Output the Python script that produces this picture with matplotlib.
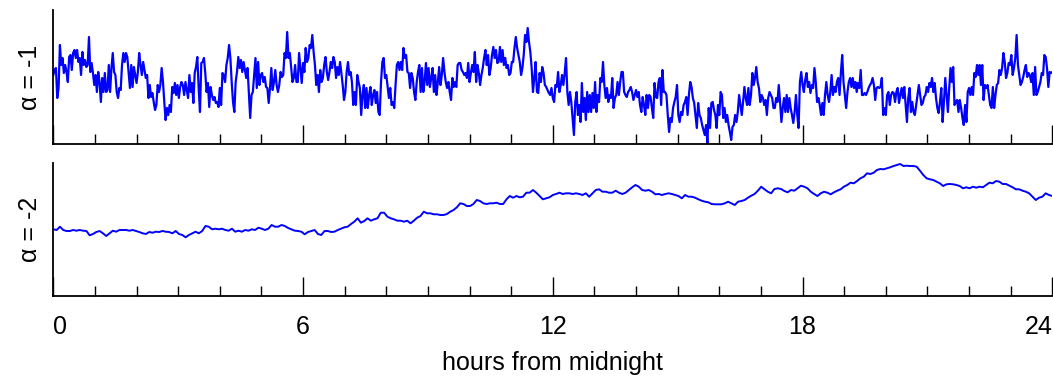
import numpy as np
import matplotlib
matplotlib.use("Agg")
import matplotlib.pyplot as plt

# series, in pixel-height units above each panel's baseline
alpha_m1 = [
    69, 74, 76, 46, 56, 99, 79, 86, 71, 79, 72, 62, 87, 89, 74, 91, 94, 86, 94, 82, 86, 69, 92, 79, 84, 77, 79, 107,
    72, 81, 71, 59, 69, 52, 72, 62, 42, 66, 52, 71, 52, 54, 79, 52, 76, 91, 72, 69, 52, 46, 56, 54, 79, 91, 82, 91,
    87, 71, 56, 79, 57, 77, 69, 61, 72, 91, 79, 69, 82, 74, 66, 69, 46, 59, 47, 51, 42, 34, 39, 59, 52, 59, 76, 62,
    42, 24, 36, 29, 39, 32, 57, 51, 61, 49, 59, 46, 57, 62, 59, 49, 62, 54, 46, 69, 52, 61, 41, 71, 77, 87, 56, 32,
    81, 82, 86, 71, 52, 61, 37, 57, 49, 44, 47, 41, 42, 37, 56,
    39, 71, 69, 62, 79, 86, 99, 86, 62, 42, 32, 62, 72, 87, 76, 84, 72, 82, 74, 66, 76, 52, 26, 49, 52, 69, 86, 56,
    82, 59, 69, 71, 62, 67, 57, 56, 41, 56, 76, 54, 62, 74, 59, 52, 59, 72, 67, 69, 91, 86, 112, 86, 91, 76, 62, 66,
    79, 62, 62, 91, 76, 61, 81, 72, 96, 82, 86, 99, 96, 109, 92, 79, 59, 69, 52, 74, 62, 66, 79, 87, 72, 64, 72, 82,
    76, 87, 82, 66, 77, 69, 82, 71, 59, 44, 52, 72, 82, 69, 72, 62, 39, 52, 39, 69, 62, 56, 29, 49, 59, 36, 56, 36,
    49, 57, 39, 49, 54, 41, 52, 32, 29, 62, 82, 86, 66,
    69, 57, 46, 56, 39, 42, 36, 59, 79, 82, 74, 82, 74, 96, 86, 89, 72, 71, 56, 71, 66, 52, 44, 62, 72, 79, 52, 76,
    52, 62, 81, 59, 76, 57, 66, 76, 52, 69, 49, 62, 77, 59, 69, 86, 72, 62, 56, 62, 52, 44, 66, 57, 62, 57, 79, 81,
    81, 74, 72, 69, 71, 66, 81, 62, 71, 79, 72, 92, 62, 79, 71, 59, 69, 76, 86, 94, 79, 89, 69, 76, 89, 97, 86, 94,
    81, 82, 97, 82, 94, 79, 86, 76, 79, 69, 71, 82, 82, 96, 107, 96, 89, 82, 69, 76, 89, 109, 102, 116, 102, 92, 76,
    52, 66, 82, 52, 51, 71, 62, 77, 71, 59, 57, 54, 51,
    49, 56, 46, 42, 59, 57, 72, 52, 59, 69, 59, 71, 86, 52, 39, 52, 42, 26, 9, 42, 52, 29, 39, 22, 61, 32, 46, 24,
    52, 32, 49, 32, 51, 36, 62, 32, 49, 42, 66, 62, 82, 59, 46, 56, 42, 49, 46, 66, 36, 46, 49, 62, 49, 62, 72, 72,
    52, 49, 47, 52, 54, 57, 52, 44, 49, 54, 47, 52, 39, 32, 47, 39, 29, 49, 36, 49, 47, 36, 26, 61, 47, 46, 62, 66,
    39, 74, 52, 52, 49, 29, 12, 26, 22, 36, 42, 47, 59, 29, 22, 32, 29, 39, 42, 47, 29, 49, 62, 57, 46, 41, 29, 16,
    41, 29, 26, 19, 14, 9, 19, 1, 36, 16, 41, 42, 34,
    29, 16, 39, 29, 52, 49, 26, 36, 22, 29, 19, 12, 4, 17, 19, 29, 22, 32, 49, 39, 29, 42, 57, 46, 39, 56, 39, 49,
    71, 59, 66, 77, 62, 56, 42, 49, 46, 39, 44, 29, 46, 52, 49, 46, 36, 36, 46, 42, 59, 42, 22, 36, 46, 32, 49, 32,
    46, 36, 29, 21, 32, 49, 29, 16, 62, 72, 59, 52, 64, 71, 57, 62, 51, 59, 56, 76, 62, 42, 46, 39, 29, 41, 29, 49,
    62, 49, 42, 52, 69, 49, 57, 52, 62, 66, 49, 71, 89, 62, 49, 36, 52, 62, 66, 57, 66, 56, 62, 52, 61, 56, 74, 49,
    49, 51, 49, 52, 56, 59, 61, 66, 59, 44, 56, 57,
    56, 57, 66, 29, 36, 29, 49, 52, 39, 49, 52, 51, 42, 52, 56, 41, 49, 56, 46, 57, 39, 22, 46, 56, 32, 42, 32, 29,
    39, 49, 59, 49, 39, 41, 47, 49, 57, 52, 61, 57, 66, 52, 61, 46, 36, 31, 42, 56, 22, 42, 66, 49, 32, 56, 76, 62,
    77, 39, 42, 44, 32, 44, 36, 26, 19, 39, 22, 52, 56, 49, 57, 49, 71, 67, 79, 69, 79, 59, 79, 44, 59, 56, 59, 49,
    39, 36, 57, 36, 49, 59, 61, 74, 69, 76, 91, 82, 66, 71, 81, 79, 89, 69, 76, 86, 109, 79, 69, 59, 62, 67, 74, 79,
    67, 71, 69, 62, 71, 49, 77, 49, 52, 57, 62, 71, 69, 89, 87, 76, 57, 72, 71, 72,
]

alpha_m2 = [
    66.7, 66, 69.3, 66, 65, 65, 66, 65.3, 66, 65.3, 65, 60.7, 62, 64, 65, 62.7, 60, 62.7, 65.3, 64.3, 66, 66, 66,
    65.3, 66, 65, 64, 62.7, 62, 64, 63.3, 64.3, 64, 65, 64.3, 64, 62.7, 65, 62, 61, 58.7, 61, 62.7, 64.3, 62.7, 65,
    70, 69.3, 66.7, 67.3, 66.7, 67.3, 66, 65.3, 67.3, 64.3, 65.3, 64.3, 66, 65.3, 66.7, 66, 68.3, 67.3, 66, 67.3,
    71, 69.3, 69.3, 71, 70, 68, 66.7, 65.3, 65, 64.3, 61.7, 64, 65, 66, 62, 61, 65, 65, 64, 64.3, 66, 67.3,
    68.7, 69.3, 72, 74.3, 77.7, 73.3, 75, 77.7, 75.3, 76.7, 77.7, 83.3, 83.3, 79.3, 77.7, 76.7, 75.3, 75.3, 74.3,
    75.3, 72.7, 75.3, 78.3, 80, 84.3, 82.7, 82.7, 81.7, 81.7, 81, 81, 82, 84.3, 86, 88.7, 92.7, 92, 90, 90, 92, 96,
    95, 92.7, 92, 92.7, 92.7, 93.3, 92, 92, 96.7, 100, 98.3, 100, 98.7, 99.3, 103.3, 103.3, 106, 103.3, 100, 96.7,
    97.7, 98.7, 101, 102, 103.3, 102, 102.7, 102.7, 102, 102.7, 102, 101, 102.7, 99.3, 102.7, 106, 106.7, 104.3,
    104.3, 103.3, 103.3, 105.3, 103.3, 102, 103.3, 106, 108.7, 111, 109.3, 106, 105.3, 106, 104.3, 101.7, 102, 101,
    102, 102.7, 102, 101, 100, 97.7, 101, 99.3,
    99.3, 98.3, 96.7, 95.3, 94.3, 93.7, 92, 91.7, 91.7, 91.7, 92.7, 94.3, 92.7, 91, 94.3, 95, 96, 98.3, 100.3, 102,
    105.3, 109.3, 106.7, 104.3, 102.7, 107, 107.7, 107, 105, 103.7, 106, 105.3, 107.7, 110.3, 109.3, 107.7, 104.3,
    102, 100, 102.7, 104.3, 103.3, 101.7, 103.7, 105.3, 106.7, 109.3, 111, 113.3, 112.7, 115, 117.7, 119.3, 122.7,
    122, 123.3, 126, 127, 126.7, 127.7, 128.7, 130, 131, 132, 130, 130.3, 130, 130, 129.3, 125.3, 121, 117.7, 116.7,
    116, 114.3, 112.7, 110, 111.7, 112, 111.7, 111, 110, 107.7, 108.7, 107.7, 109.3, 108.3, 109.3, 108.7, 111,
    113.3, 112.7, 115, 114.3, 112, 112, 110.3, 108.7, 106.7, 106.7, 105.3, 104.3, 102.7, 99.3, 96, 98.3, 99.3,
    102.7, 101, 100,
]

hour_ticks = [0, 6, 12, 18, 24]
hour_minor = list(range(25))
panel_labels = ["\u03b1 = -1", "\u03b1 = -2"]
x_label = "hours from midnight"

plt.rcParams.update({"font.family": ["Liberation Sans", "DejaVu Sans"], "font.size": 18})

W, H = 1053, 379
fig = plt.figure(figsize=(W / 100, H / 100), dpi=100)
ax1 = fig.add_axes([53.3 / W, (H - 144) / H, 999 / W, 134 / H])
ax2 = fig.add_axes([53.3 / W, (H - 296) / H, 999 / W, 133 / H])

for ax, ys, lab, top, lw in [(ax1, alpha_m1, panel_labels[0], 134, 1.6),
                             (ax2, alpha_m2, panel_labels[1], 133, 1.4)]:
    t = np.linspace(0, 24, len(ys))
    ax.plot(t, ys, color="#0000ff", lw=lw)
    ax.set_xlim(0, 24)
    ax.set_ylim(0, top)
    ax.spines[["top", "right"]].set_visible(False)
    ax.spines[["left", "bottom"]].set_linewidth(1.3)
    ax.set_yticks([])
    ax.set_xticks(hour_ticks)
    ax.set_xticks(hour_minor, minor=True)
    ax.tick_params(axis="x", which="major", direction="in", length=13.7, width=1.0, pad=14)
    ax.tick_params(axis="x", which="minor", direction="in", length=7.2, width=1.0)
    ax.set_ylabel(lab, labelpad=8)

ax1.tick_params(axis="x", labelbottom=False)
lbls = ax2.set_xticklabels([str(h) for h in hour_ticks])
lbls[0].set_ha("left")
lbls[-1].set_ha("right")
ax2.set_xlabel(x_label, labelpad=8)

fig.savefig("out.png", dpi=100)
